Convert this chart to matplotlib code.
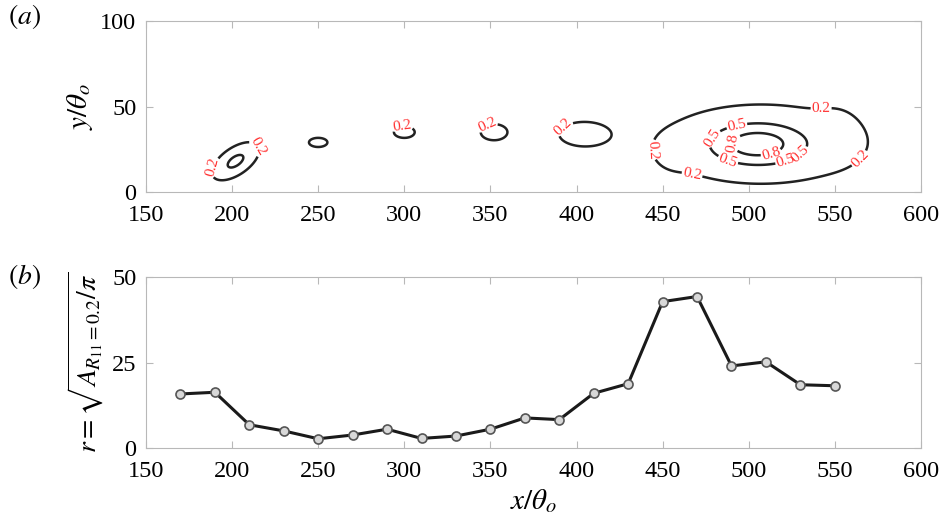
import numpy as np
import matplotlib.pyplot as plt

plt.rcParams['font.family'] = ['Liberation Serif', 'DejaVu Serif']
plt.rcParams['mathtext.fontset'] = 'stix'

# panel (b): equivalent radius of the R11 = 0.2 region
x_pos = [170, 190, 210, 230, 250, 270, 290, 310, 330, 350,
         370, 390, 410, 430, 450, 470, 490, 510, 530, 550]
r_val = [15.8, 16.3, 6.8, 5.0, 2.7, 3.8, 5.5, 2.8, 3.5, 5.5,
         8.8, 8.3, 16.0, 18.8, 42.8, 44.3, 24.0, 25.2, 18.5, 18.2]

# panel (a): correlation field approximated by a few blobs
blob_x = [202, 250, 300, 352, 403, 505, 508, 552, 455]
blob_y = [18, 29, 35, 35, 34, 28, 28, 36, 22]
blob_sx = [11, 8, 9, 9, 12, 18, 55, 9, 8]
blob_sy = [5.5, 4, 5, 5.5, 6, 8, 21, 11, 8]
blob_amp = [0.56, 0.25, 0.25, 0.28, 0.3, 0.65, 0.35, 0.08, 0.06]
blob_ang = [35, 0, 0, 0, 0, 0, 0, 0, 0]
levels = [0.2, 0.5, 0.8]

# where the contour labels sit (approx.)
label_x = [190, 214, 299, 349, 393, 448, 472, 542, 556, 486, 522,
           469, 492, 527, 487, 512]
label_y = [14, 26, 37, 37, 37, 25, 37, 50, 28, 13, 16,
           20, 44, 26, 30, 26]

gx, gy = np.meshgrid(np.linspace(150, 600, 600), np.linspace(0, 100, 300))
field = np.zeros_like(gx)
for x0, y0, sx, sy, a, ang in zip(blob_x, blob_y, blob_sx, blob_sy, blob_amp, blob_ang):
    t = np.deg2rad(ang)
    u = (gx - x0) * np.cos(t) + (gy - y0) * np.sin(t)
    v = -(gx - x0) * np.sin(t) + (gy - y0) * np.cos(t)
    field += a * np.exp(-0.5 * (u / sx) ** 2 - 0.5 * (v / sy) ** 2)

spine_col = '#b8b8b8'
fig = plt.figure(figsize=(9.43, 5.31), dpi=100)
ax1 = fig.add_axes([0.1548, 0.6384, 0.8218, 0.322])
ax2 = fig.add_axes([0.1548, 0.1563, 0.8218, 0.322])

cs = ax1.contour(gx, gy, field, levels=levels, colors='#222222', linewidths=1.8)
ax1.clabel(cs, fmt='%.1f', fontsize=11, colors='#ff3030', inline=True,
           inline_spacing=1, manual=list(zip(label_x, label_y)))
ax1.set_xlim(150, 600)
ax1.set_ylim(0, 100)
ax1.set_yticks([0, 50, 100])
ax1.set_ylabel(r'$y/\theta_o$', fontsize=21)

ax2.plot(x_pos, r_val, '-o', color='#1a1a1a', lw=2.2, ms=6.5,
         mfc='#d8d8d8', mec='#555555', mew=1.2)
ax2.set_xlim(150, 600)
ax2.set_ylim(0, 50)
ax2.set_yticks([0, 25, 50])
ax2.set_xlabel(r'$x/\theta_o$', fontsize=21)
ax2.set_ylabel(r'$r=\sqrt{A_{R_{11}=0.2}/\pi}$', fontsize=20)

for ax in (ax1, ax2):
    ax.set_xticks(range(150, 601, 50))
    ax.tick_params(direction='in', top=True, right=True, labelsize=17.5,
                   color=spine_col, length=5)
    ax.tick_params(axis='x', pad=9)
    ax.tick_params(axis='y', pad=7)
    for s in ax.spines.values():
        s.set_color(spine_col)

fig.text(0.008, 0.955, r'$(a)$', fontsize=20)
fig.text(0.008, 0.465, r'$(b)$', fontsize=20)

fig.savefig('out.png', dpi=100)
